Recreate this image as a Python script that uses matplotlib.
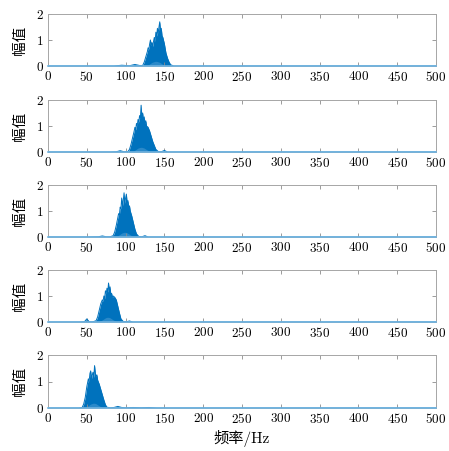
"""
plot.py

Five stacked amplitude spectra (幅值 vs 频率/Hz), MATLAB-like styling.
"""

import matplotlib

matplotlib.use("Agg")
import matplotlib.pyplot as plt
import numpy as np

# ---- data (upper envelope + light inner band) ----
freq_1 = [0, 60, 85, 95, 105, 112, 118, 122, 124, 126, 128, 129, 130, 131, 132, 133, 134,
          135, 136, 137, 138, 139, 140, 141, 142, 143, 144, 145, 146, 147, 148, 150, 152,
          154, 156, 158, 162, 500]
amp_1 = [0, 0, 0, 0.03, 0.01, 0.06, 0.02, 0.02, 0.15, 0.35, 0.55, 0.7, 0.65, 0.85, 1.0, 0.8,
         0.9, 0.75, 0.95, 1.1, 0.95, 1.3, 1.15, 1.45, 1.25, 1.5, 1.7, 1.35, 1.45, 1.15, 1.1,
         0.85, 0.5, 0.3, 0.15, 0.05, 0.0, 0]
inner_1 = [0, 0, 0, 0, 0, 0, 0, 0, 0, 0, 0.02, 0.04, 0.06, 0.08, 0.1, 0.12, 0.14,
           0.15, 0.16, 0.17, 0.18, 0.18, 0.18, 0.17, 0.16, 0.15, 0.14, 0.12, 0.1, 0.08, 0.06,
           0.03, 0.01, 0, 0, 0, 0, 0]

freq_2 = [0, 60, 80, 88, 93, 98, 103, 105, 107, 109, 111, 112, 113, 114, 115, 116, 117,
          118, 119, 120, 121, 122, 123, 124, 125, 126, 127, 129, 131, 133, 135, 137, 139,
          142, 146, 150, 154, 500]
amp_2 = [0, 0, 0, 0.01, 0.05, 0.01, 0.02, 0.1, 0.3, 0.55, 0.8, 0.95, 0.85, 1.1, 1.0, 1.25,
         1.15, 1.4, 1.3, 1.8, 1.35, 1.5, 1.2, 1.35, 1.1, 1.2, 1.0, 0.95, 0.8, 0.6, 0.4, 0.25,
         0.1, 0.02, 0.01, 0.06, 0, 0]
inner_2 = [0, 0, 0, 0, 0, 0, 0, 0, 0, 0.02, 0.05, 0.07, 0.09, 0.11, 0.13, 0.15, 0.16,
           0.17, 0.18, 0.18, 0.18, 0.17, 0.16, 0.15, 0.13, 0.11, 0.09, 0.06, 0.03, 0.01, 0, 0,
           0, 0, 0, 0, 0, 0]

freq_3 = [0, 50, 65, 70, 75, 80, 84, 86, 88, 90, 91, 92, 93, 94, 95, 96, 97, 98, 99, 100,
          101, 102, 103, 104, 105, 106, 108, 110, 112, 114, 117, 121, 125, 129, 500]
amp_3 = [0, 0, 0.01, 0.04, 0.01, 0.01, 0.05, 0.2, 0.45, 0.75, 0.9, 0.85, 1.15, 1.1, 1.5,
         1.2, 1.4, 1.7, 1.3, 1.5, 1.65, 1.3, 1.4, 1.15, 1.2, 1.0, 0.8, 0.55, 0.3, 0.12, 0.02,
         0.01, 0.05, 0, 0]
inner_3 = [0, 0, 0, 0, 0, 0, 0, 0, 0.02, 0.05, 0.07, 0.09, 0.11, 0.13, 0.15, 0.16, 0.17,
           0.18, 0.18, 0.18, 0.17, 0.16, 0.14, 0.12, 0.1, 0.08, 0.05, 0.02, 0, 0, 0, 0, 0, 0, 0]

freq_4 = [0, 40, 47, 50, 53, 58, 62, 64, 66, 68, 70, 71, 72, 73, 74, 75, 76, 77, 78, 79, 80,
          81, 82, 83, 84, 86, 88, 90, 92, 94, 97, 101, 105, 109, 500]
amp_4 = [0, 0, 0.01, 0.12, 0.01, 0.01, 0.05, 0.2, 0.45, 0.7, 0.85, 0.8, 1.0, 0.9, 1.2, 1.1,
         1.3, 1.15, 1.5, 1.2, 1.35, 1.05, 1.1, 0.95, 1.0, 0.95, 0.85, 0.6, 0.35, 0.12, 0.02,
         0.01, 0.04, 0, 0]
inner_4 = [0, 0, 0, 0, 0, 0, 0, 0, 0.02, 0.05, 0.08, 0.1, 0.12, 0.14, 0.16, 0.17, 0.18,
           0.18, 0.18, 0.17, 0.16, 0.14, 0.12, 0.1, 0.08, 0.05, 0.02, 0, 0, 0, 0, 0, 0, 0, 0]

freq_5 = [0, 40, 44, 46, 48, 50, 51, 52, 53, 54, 55, 56, 57, 58, 59, 60, 61, 62, 63, 64,
          66, 68, 70, 72, 74, 76, 80, 85, 90, 95, 100, 110, 120, 130, 140, 500]
amp_5 = [0, 0, 0.02, 0.15, 0.4, 0.8, 0.95, 1.1, 1.0, 1.3, 1.4, 1.1, 1.25, 1.35, 1.15, 1.6,
         1.3, 1.2, 1.25, 1.05, 0.9, 0.7, 0.5, 0.3, 0.12, 0.03, 0.01, 0.02, 0.06, 0.02, 0.01,
         0.02, 0.01, 0.02, 0, 0]
inner_5 = [0, 0, 0, 0, 0.02, 0.05, 0.07, 0.09, 0.11, 0.13, 0.15, 0.16, 0.17, 0.18, 0.18,
           0.18, 0.17, 0.16, 0.14, 0.12, 0.08, 0.05, 0.02, 0, 0, 0, 0, 0, 0, 0, 0, 0, 0, 0, 0, 0]

x_ticks = [0, 50, 100, 150, 200, 250, 300, 350, 400, 450, 500]
y_ticks = [0, 1, 2]

SPECTRA = [
    (freq_1, amp_1, inner_1),
    (freq_2, amp_2, inner_2),
    (freq_3, amp_3, inner_3),
    (freq_4, amp_4, inner_4),
    (freq_5, amp_5, inner_5),
]

LINE_BLUE = "#0072BD"
LIGHT_BLUE = "#7db6e0"
BASE_BLUE = "#6fb3e0"

plt.rcParams["font.family"] = ["cmr10", "Noto Sans CJK SC"]
plt.rcParams["axes.formatter.use_mathtext"] = True
plt.rcParams["mathtext.fontset"] = "cm"

fig = plt.figure(figsize=(4.49, 4.51), dpi=100)

# panel geometry in pixels (top, bottom) from the reference
PANEL_PX = [(14, 66), (100, 152), (185, 237), (270, 322), (355, 408)]
left = 48 / 449
width = (436 - 48) / 449

for i, ((top, bot), (f, a, inner)) in enumerate(zip(PANEL_PX, SPECTRA)):
    ax = fig.add_axes([left, 1 - bot / 451, width, (bot - top) / 451])
    f = np.asarray(f, dtype=float)
    a = np.asarray(a, dtype=float)
    inner = np.asarray(inner, dtype=float)
    ax.fill_between(f, 0, a, color=LINE_BLUE, linewidth=0)
    ax.plot(f, a, color=LINE_BLUE, linewidth=0.7)
    ax.fill_between(f, 0, inner, color=LIGHT_BLUE, linewidth=0, alpha=0.35)
    # thin zero baseline of the spectrum, drawn on the bottom spine
    ax.plot([f[0], f[-1]], [0, 0], color=BASE_BLUE, linewidth=1.2, clip_on=False, zorder=3)

    ax.set_xlim(0, 500)
    ax.set_ylim(0, 2)
    ax.set_xticks(x_ticks)
    ax.set_yticks(y_ticks)
    ax.tick_params(direction="in", top=True, right=True, length=3,
                   width=0.6, color="0.55", labelsize=9.5, pad=3)
    for sp in ax.spines.values():
        sp.set_color("0.65")
        sp.set_linewidth(0.7)
    ax.set_ylabel("幅值", fontsize=10.5, labelpad=6)
    if i == len(PANEL_PX) - 1:
        ax.set_xlabel("频率/Hz", fontsize=11, labelpad=3)

fig.savefig("out.png", dpi=100)
